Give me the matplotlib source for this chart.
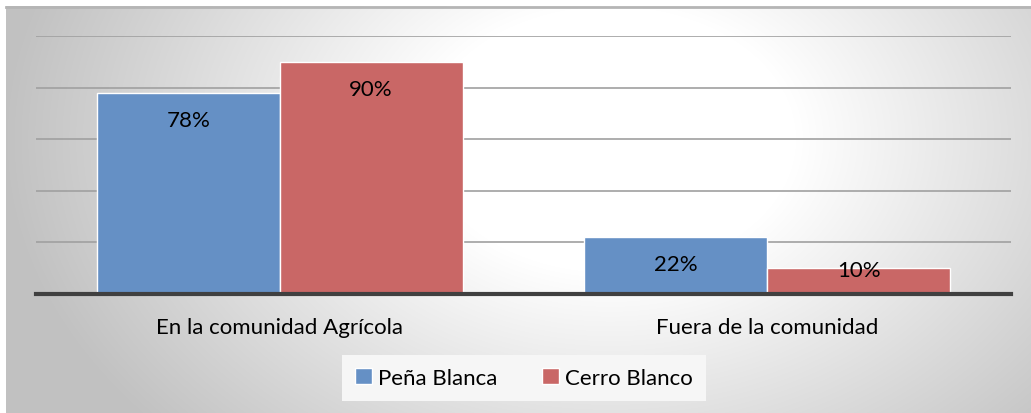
import numpy as np
import matplotlib
matplotlib.use("Agg")
import matplotlib.pyplot as plt

plt.rcParams['font.family'] = ['Lato', 'DejaVu Sans']

categories = ["En la comunidad Agrícola", "Fuera de la comunidad"]
series_names = ["Peña Blanca", "Cerro Blanco"]
pena_blanca = [0.78, 0.22]
cerro_blanco = [0.90, 0.10]
bar_colors = ["#6590c5", "#c96766"]

W, H = 1031, 414
fig = plt.figure(figsize=(W / 100, H / 100), dpi=100)

# background panel with a radial grey gradient
bg = fig.add_axes([6 / W, 0, 1 - 6 / W, 1 - 7 / H])
yy, xx = np.mgrid[7:H, 6:W]
d = np.sqrt(((xx - 610) / 530.0) ** 2 + ((yy - 140) / 380.0) ** 2)
shade = 255 - 62 * np.clip((d - 0.35) / 0.8, 0, 1)
img = np.dstack([shade, shade, shade]) / 255.0
bg.imshow(img, aspect='auto', interpolation='bilinear')
bg.set_axis_off()
fig.add_artist(plt.Line2D([6 / W, 1], [1 - 7.5 / H, 1 - 7.5 / H],
                          color="#b5b5b5", lw=2, transform=fig.transFigure))

# plot area
ax = fig.add_axes([36 / W, 1 - 295 / H, 975 / W, 258 / H])
ax.patch.set_alpha(0)
x = np.arange(len(categories))
w = 0.375
for i, (vals, name) in enumerate(zip([pena_blanca, cerro_blanco], series_names)):
    pos = x + (i - 0.5) * w
    ax.bar(pos, vals, w, color=bar_colors[i], edgecolor="white",
           linewidth=1, label=name, zorder=3)
    for p, v in zip(pos, vals):
        off = -27 if v > 0.15 else -2
        ax.annotate(f"{v:.0%}", (p, v), xytext=(0, off), textcoords="offset pixels",
                    ha="center", va="center", fontsize=16, color="black", zorder=4)

ax.set_xlim(-0.5, 1.5)
ax.set_ylim(0, 1.0)
ax.set_yticks([0.2, 0.4, 0.6, 0.8, 1.0])
ax.yaxis.grid(True, color="#a0a0a0", lw=1.2, zorder=1)
ax.tick_params(axis='y', left=False, labelleft=False)
ax.tick_params(axis='x', bottom=False, labelsize=16, pad=13)
ax.set_xticks(x)
ax.set_xticklabels(categories)
for s in ["top", "right", "left"]:
    ax.spines[s].set_visible(False)
ax.spines["bottom"].set_color("#404040")
ax.spines["bottom"].set_linewidth(3)
ax.spines["bottom"].set_zorder(5)

leg = fig.legend(loc="center", bbox_to_anchor=(524 / W, 1 - 379 / H), ncol=2,
                 frameon=True, fontsize=16, handlelength=0.75, handleheight=0.75,
                 handletextpad=0.3, columnspacing=2.0, borderpad=0.6,
                 borderaxespad=0)
leg.get_frame().set_facecolor("#f6f6f6")
leg.get_frame().set_edgecolor("none")
leg.get_frame().set_alpha(1)
leg.get_frame().set_boxstyle("square", pad=0)

fig.savefig("out.png", dpi=100)
